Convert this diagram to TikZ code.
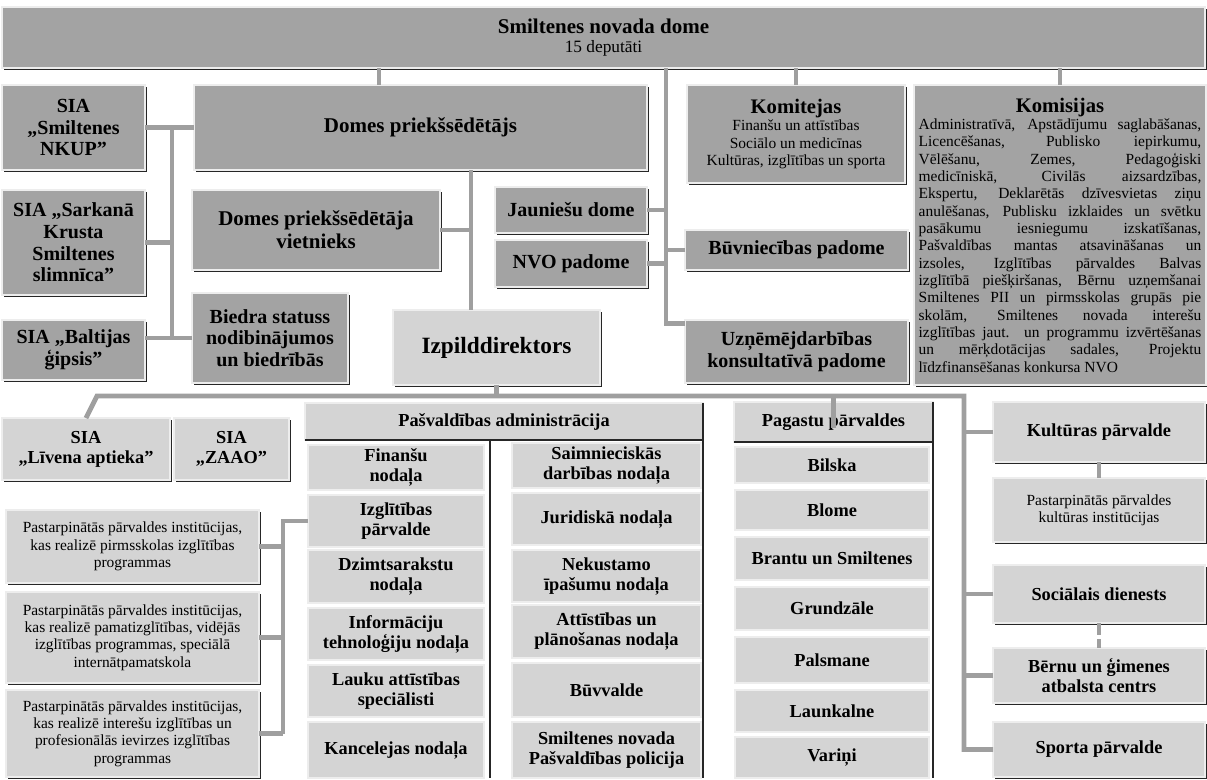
\documentclass[tikz,border=0pt]{standalone}
\usepackage{fontspec}
\setmainfont{Liberation Serif}
\usetikzlibrary{shadows}
\definecolor{dgray}{HTML}{A3A3A3}
\definecolor{lgray}{HTML}{D4D4D4}
\definecolor{cgray}{HTML}{9F9F9F}

\begin{document}
\begin{tikzpicture}[x=0.75pt,y=-0.75pt,
		sz/.style 2 args={minimum width=#1*0.75pt,minimum height=#2*0.75pt},
		base/.style={draw=black!7,line width=1.2pt,inner sep=1pt,outer sep=0pt,align=center},
		shade/.style={general shadow={fill=black!85,shadow xshift=1.6pt,shadow yshift=-1.6pt}},
		dbox/.style={base,shade,fill=dgray},
		lbox/.style={base,shade,fill=lgray},
		cell/.style={base,fill=lgray},
		big/.style={font=\bfseries\fontsize{15.75}{17.5}\selectfont},
		upper/.style={font=\bfseries\fontsize{15}{16.3}\selectfont},
		lower/.style={font=\bfseries\fontsize{13.75}{15}\selectfont},
		small/.style={font=\fontsize{11.6}{13}\selectfont},
		conn/.style={draw=cgray,line width=3.6pt},
		blk/.style={draw=black!85,line width=1.6pt}]
	\useasboundingbox[fill=white] (0,0) rectangle (1207,779);

	% council and the upper boxes
	\node [dbox,sz={1203}{61}] (top) at (603.5,37.5) {{\bfseries\fontsize{15.75}{18}\selectfont Smiltenes novada dome}\\[2pt]{\fontsize{13}{14}\selectfont 15 deputāti}};
	\node [dbox,upper,sz={143}{85}] (nkup) at (73.5,127.5) {SIA\\„Smiltenes\\NKUP”};
	\node [dbox,big,sz={453}{85}] (chair) at (420.5,127.5) {Domes priekšsēdētājs};
	\node [dbox,small,sz={218}{98}] (komitejas) at (796,134) {{\bfseries\fontsize{15.5}{17.5}\selectfont Komitejas}\\Finanšu un attīstības\\Sociālo un medicīnas\\Kultūras, izglītības un sporta};
	\node [dbox,small,sz={292}{300},text width=212pt,align=justify,inner sep=2pt] (komisijas) at (1060,235) {{\centering\bfseries\fontsize{15.5}{17.5}\selectfont Komisijas\par}
		Administratīvā, Apstādījumu saglabāšanas,\linebreak
		Licencēšanas, Publisko iepirkumu,\linebreak
		Vēlēšanu, Zemes, Pedagoģiski\linebreak
		medicīniskā, Civilās aizsardzības,\linebreak
		Ekspertu, Deklarētās dzīvesvietas ziņu\linebreak
		anulēšanas, Publisku izklaides un svētku\linebreak
		pasākumu iesniegumu izskatīšanas,\linebreak
		Pašvaldības mantas atsavināšanas un\linebreak
		izsoles, Izglītības pārvaldes Balvas\linebreak
		izglītībā piešķiršanas, Bērnu uzņemšanai\linebreak
		Smiltenes PII un pirmsskolas grupās pie\linebreak
		skolām, Smiltenes novada interešu\linebreak
		izglītības jaut. un programmu izvērtēšanas\linebreak
		un mērķdotācijas sadales, Projektu\linebreak
		līdzfinansēšanas konkursa NVO};
	\node [dbox,upper,sz={143}{105}] (sarkana) at (73.5,242.5) {SIA „Sarkanā\\Krusta\\Smiltenes\\slimnīca”};
	\node [dbox,big,sz={248}{80}] (vietnieks) at (316,230) {Domes priekšsēdētāja\\vietnieks};
	\node [dbox,upper,sz={152}{46}] (jauniesu) at (571,210) {Jauniešu dome};
	\node [dbox,upper,sz={152}{47}] (nvo) at (571,263.5) {NVO padome};
	\node [dbox,upper,sz={223}{40}] (buvn) at (796.5,250) {Būvniecības padome};
	\node [dbox,upper,sz={223}{63}] (uzn) at (796.5,351.5) {Uzņēmējdarbības\\konsultatīvā padome};
	\node [dbox,upper,sz={156}{90}] (biedra) at (270,338) {Biedra statuss\\nodibinājumos\\un biedrībās};
	\node [dbox,upper,sz={143}{60}] (baltijas) at (73.5,350) {SIA „Baltijas\\ģipsis”};
	\node [lbox,font=\bfseries\fontsize{17.5}{19}\selectfont,sz={207}{75}] (izp) at (496.5,347.5) {Izpilddirektors};

	% lower part
	\node [lbox,lower,sz={168}{62}] (livena) at (86,449) {SIA\\„Līvena aptieka”};
	\node [lbox,lower,sz={115}{62}] (zaao) at (231.5,449) {SIA\\„ZAAO”};
	\node [cell,lower,sz={398}{37}] (pasv) at (504,421.5) {Pašvaldības administrācija};
	\node [cell,lower,sz={176}{45}] (finansu) at (396,467.5) {Finanšu\\nodaļa};
	\node [cell,lower,sz={176}{52}] (izglitibas) at (396,521) {Izglītības\\pārvalde};
	\node [cell,lower,sz={176}{53}] (dzimts) at (396,576.5) {Dzimtsarakstu\\nodaļa};
	\node [cell,lower,sz={176}{52}] (inform) at (396,634) {Informāciju\\tehnoloģiju nodaļa};
	\node [cell,lower,sz={176}{52}] (lauku) at (396,691) {Lauku attīstības\\speciālisti};
	\node [cell,lower,sz={176}{56}] (kanc) at (396,750) {Kancelejas nodaļa};
	\node [cell,lower,sz={189}{45}] (saimn) at (606.5,465.5) {Saimnieciskās\\darbības nodaļa};
	\node [cell,lower,sz={189}{52}] (jurid) at (606.5,519) {Juridiskā nodaļa};
	\node [cell,lower,sz={189}{52}] (nekust) at (606.5,576) {Nekustamo\\īpašumu nodaļa};
	\node [cell,lower,sz={189}{53}] (attist) at (606.5,631.5) {Attīstības un\\plānošanas nodaļa};
	\node [cell,lower,sz={189}{54}] (buvvalde) at (606.5,690) {Būvvalde};
	\node [cell,lower,sz={189}{56}] (policija) at (606.5,750) {Smiltenes novada\\Pašvaldības policija};

	\node [cell,lower,sz={199}{40}] (pagastu) at (833.5,422) {Pagastu pārvaldes};
	\node [cell,lower,sz={194}{36}] (bilska) at (832,465) {Bilska};
	\node [cell,lower,sz={194}{40}] (blome) at (832,510) {Blome};
	\node [cell,lower,sz={194}{43}] (brantu) at (832,558.5) {Brantu un Smiltenes};
	\node [cell,lower,sz={194}{43}] (grundzale) at (832,608.5) {Grundzāle};
	\node [cell,lower,sz={194}{46}] (palsmane) at (832,660) {Palsmane};
	\node [cell,lower,sz={194}{42}] (launkalne) at (832,711) {Launkalne};
	\node [cell,lower,sz={194}{41}] (varini) at (832,757.5) {Variņi};

	\node [lbox,small,sz={253}{73}] (pirms) at (132.5,546.5) {Pastarpinātās pārvaldes institūcijas,\\kas realizē pirmsskolas izglītības\\programmas};
	\node [lbox,small,sz={253}{91}] (pamat) at (132.5,637.5) {Pastarpinātās pārvaldes institūcijas,\\kas realizē pamatizglītības, vidējās\\izglītības programmas, speciālā\\internātpamatskola};
	\node [lbox,small,sz={253}{87}] (interesu) at (132.5,733.5) {Pastarpinātās pārvaldes institūcijas,\\kas realizē interešu izglītības un\\profesionālās ievirzes izglītības\\programmas};

	\node [lbox,lower,sz={212}{60}] (kultura) at (1099,432) {Kultūras pārvalde};
	\node [lbox,small,sz={212}{64}] (kultinst) at (1099,510) {Pastarpinātās pārvaldes\\kultūras institūcijas};
	\node [lbox,lower,sz={212}{58}] (social) at (1099,594) {Sociālais dienests};
	\node [lbox,lower,sz={212}{55}] (bernu) at (1099,675.5) {Bērnu un ģimenes\\atbalsta centrs};
	\node [lbox,lower,sz={212}{55}] (sporta) at (1099,749.5) {Sporta pārvalde};

	% black rules of the two tables
	\coordinate (div) at (490,0);
	\draw [blk] (pasv.south west) -- (pasv.south east);
	\draw [blk] (pasv.north east) -- (pasv.north east |- kanc.south);
	\draw [blk] (pasv.south -| div) -- (kanc.south -| div);
	\draw [blk] (pagastu.south west) -- (pagastu.south east);
	\draw [blk] (pagastu.north east) -- (pagastu.north east |- varini.south);

	% connectors
	\coordinate (bus1) at (172,0);
	\coordinate (bus2) at (471,0);
	\coordinate (bus3) at (666,0);
	\coordinate (bus4) at (283,0);
	\coordinate (bus5) at (964,0);
	\coordinate (bus6) at (379,0);
	\coordinate (hbus) at (97,396);

	\draw [conn] (top.south -| bus6) -- (chair.north -| bus6);
	\draw [conn] (top.south -| komitejas.north) -- (komitejas.north);
	\draw [conn] (top.south -| komisijas.north) -- (komisijas.north);
	\draw [conn] (top.south -| bus3) |- ([shift={(0,-28)}]uzn.west);
	\draw [conn] (jauniesu.east) -- (jauniesu.east -| bus3);
	\draw [conn] (nvo.east) -- (nvo.east -| bus3);
	\draw [conn] (buvn.west) -- (buvn.west -| bus3);

	\draw [conn] (nkup.east) -- (chair.west |- nkup.east);
	\draw [conn] (nkup.east -| bus1) -- (biedra.west -| bus1);
	\draw [conn] (sarkana.east) -- (sarkana.east -| bus1);
	\draw [conn] (biedra.west) -- (biedra.west -| baltijas.east);

	\draw [conn] (chair.south -| bus2) -- (izp.north -| bus2);
	\draw [conn] (vietnieks.east) -- (vietnieks.east -| bus2);

	\draw [conn] (izp.south) -- (izp.south |- hbus);
	\draw [conn] (livena.north) -- (hbus) -- (hbus -| bus5) |- (sporta.west);
	\draw [conn] (pagastu.center |- hbus) -- ([shift={(0,6)}]pagastu.center);
	\draw [conn] (kultura.west) -- (kultura.west -| bus5);
	\draw [conn] (social.west) -- (social.west -| bus5);
	\draw [conn] (bernu.west) -- (bernu.west -| bus5);
	\draw [conn] (kultura.south) -- (kultinst.north);
	\draw [conn,dash pattern=on 9pt off 3pt] (social.south) -- (bernu.north);

	\draw [conn] (izglitibas.west) -| (interesu.east -| bus4);
	\draw [conn] (pirms.east) -- (pirms.east -| bus4);
	\draw [conn] (pamat.east) -- (pamat.east -| bus4);
	\draw [conn] (interesu.east) -- (interesu.east -| bus4);
\end{tikzpicture}
\end{document}
